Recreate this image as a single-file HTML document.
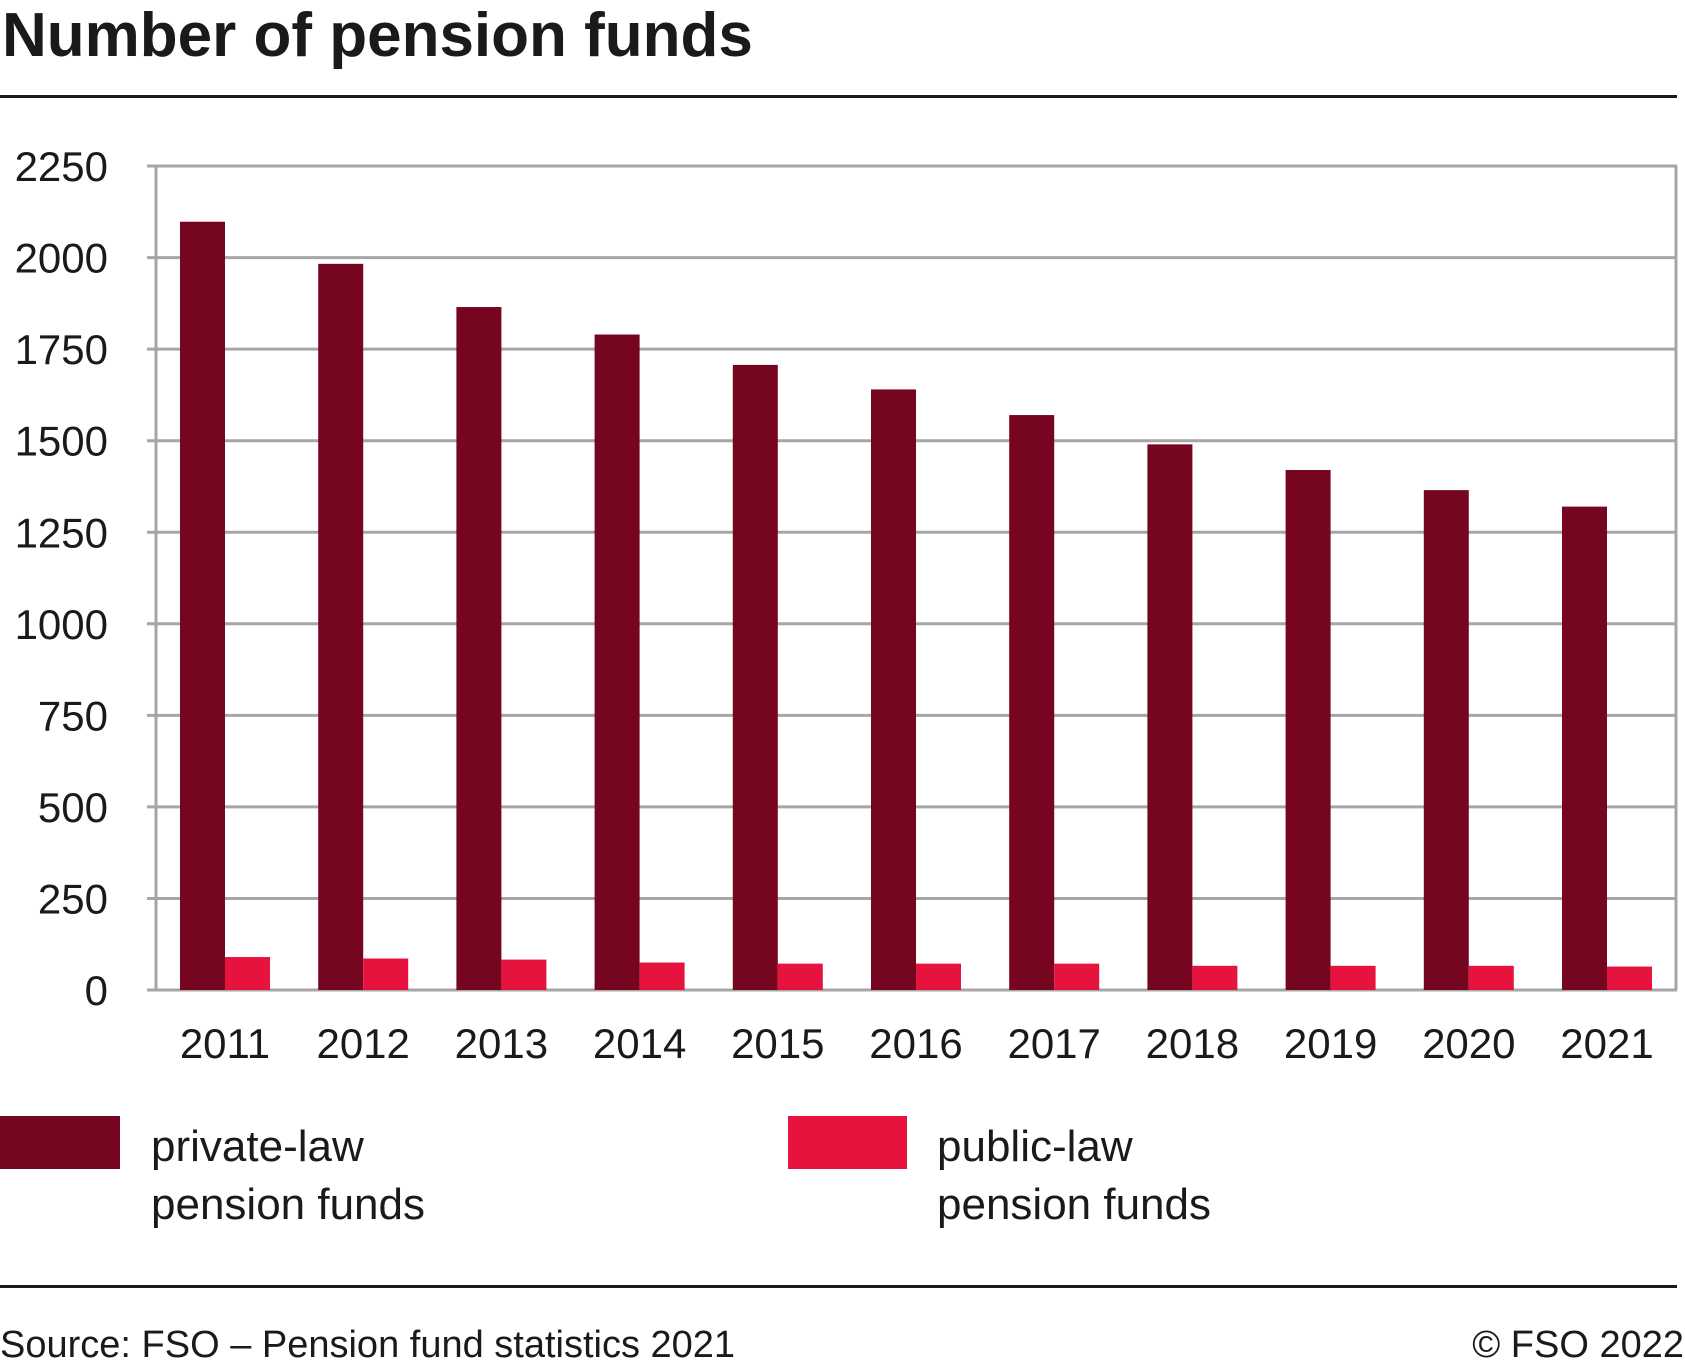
<!DOCTYPE html>
<html><head><style>
body{margin:0;width:1685px;height:1367px;background:#fff;overflow:hidden}
svg text{font-family:"Liberation Sans",sans-serif;fill:#1a1a1a}
</style></head><body>
<svg width="1685" height="1367" xmlns="http://www.w3.org/2000/svg">
<text x="2" y="56" font-size="62" font-weight="bold">Number of pension funds</text>
<rect x="0" y="95" width="1677" height="3" fill="#1a1a1a"/>
<g stroke="#a6a6a6" stroke-width="3" id="grid"></g>
<g font-size="42" text-anchor="end" id="yl"></g>
<g id="bars"></g>
<g font-size="42" text-anchor="middle" id="xl"></g>
<rect x="0" y="1116" width="120" height="53" fill="#76051f"/>
<rect x="788" y="1116" width="119" height="53" fill="#e6133f"/>
<g font-size="44">
<text x="151" y="1161">private-law</text><text x="151" y="1219">pension funds</text>
<text x="937" y="1161">public-law</text><text x="937" y="1219">pension funds</text>
</g>
<rect x="0" y="1285" width="1677" height="3" fill="#1a1a1a"/>
<text x="0" y="1357" font-size="38">Source: FSO – Pension fund statistics 2021</text>
<text x="1684" y="1357" font-size="38" text-anchor="end">© FSO 2022</text>
</svg>
<script>
var Z=990,U=91.55;
var p=[2098,1983,1865,1790,1707,1640,1570,1490,1420,1365,1320],q=[90,86,83,75,72,72,72,66,66,66,64];
var s='';
for(var k=0;k<=9;k++){var y=Z-k*U;s+='<line x1="147" y1="'+y+'" x2="1677" y2="'+y+'"/>';}
s+='<line x1="156" y1="'+(Z-9*U)+'" x2="156" y2="'+Z+'"/><line x1="1676" y1="'+(Z-9*U)+'" x2="1676" y2="'+Z+'"/>';
document.getElementById('grid').innerHTML=s;s='';
for(var k=0;k<=9;k++){s+='<text x="108" y="'+(Z-k*U+15)+'">'+(k*250)+'</text>';}
document.getElementById('yl').innerHTML=s;s='';
for(var i=0;i<11;i++){var g=156+i*138.2+24;
var h1=p[i]*U/250,h2=q[i]*U/250;
s+='<rect x="'+g+'" y="'+(Z-h1)+'" width="45" height="'+h1+'" fill="#76051f"/>';
s+='<rect x="'+(g+45)+'" y="'+(Z-h2)+'" width="45" height="'+h2+'" fill="#e6133f"/>';}
document.getElementById('bars').innerHTML=s;s='';
for(var i=0;i<11;i++){s+='<text x="'+(156+i*138.2+69)+'" y="1058">'+(2011+i)+'</text>';}
document.getElementById('xl').innerHTML=s;
</script>
</body></html>
